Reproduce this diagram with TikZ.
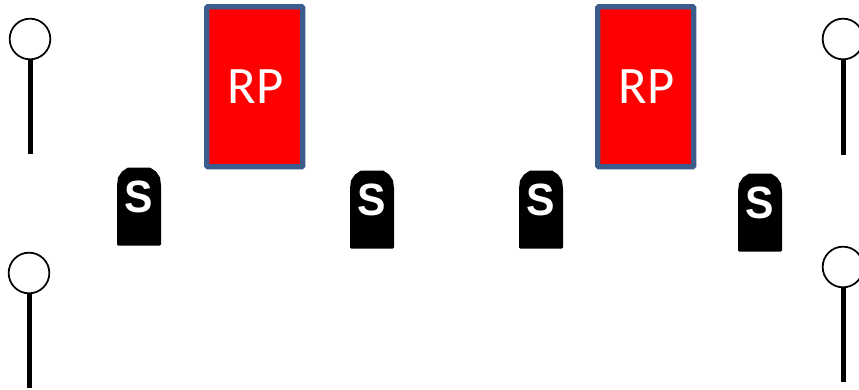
\documentclass[tikz,border=0pt]{standalone}
\usepackage{fontspec}
\setmainfont{Carlito}
\newfontfamily\badgefont{Liberation Sans}
\definecolor{rpblue}{RGB}{60,92,140}
\tikzset{
 x=0.75pt,y=-0.75pt,
 rpbox/.style={draw=rpblue,fill=red,line width=3.9pt,rounded corners=0.8pt,minimum width=72pt,minimum height=120pt,inner sep=0pt,text=white,font=\fontsize{39.5pt}{39.5pt}\selectfont},
 signalhead/.style={draw=black,fill=white,circle,line width=1.3pt,minimum size=30.5pt,inner sep=0pt},
 polebar/.style={line width=3.6pt,black},
 badgetext/.style={text=white,inner sep=0pt,font=\badgefont\bfseries\fontsize{32pt}{32pt}\selectfont},
}
\newcommand{\badgeletter}{\scalebox{1.0}[1.06]{S}}
\begin{document}
\begin{tikzpicture}
\useasboundingbox (0,0) rectangle (859,389);
% red boxes
\node[rpbox] (rpa) at (254.7,86.7) {\hspace{1.5pt}RP};
\node[rpbox] (rpb) at (645.7,86.7) {\hspace{1.5pt}RP};
% signals
\node[signalhead] (sa) at (30,39) {};
\coordinate (pa) at (30.5,154);
\draw[polebar] (sa.south -| pa) -- (pa);
\node[signalhead] (sb) at (29,273) {};
\coordinate (pb) at (29.5,388);
\draw[polebar] (sb.south -| pb) -- (pb);
\node[signalhead] (sc) at (843,39) {};
\coordinate (pc) at (843.5,155);
\draw[polebar] (sc.south -| pc) -- (pc);
\node[signalhead] (sd) at (843,267) {};
\coordinate (pd) at (843.5,382);
\draw[polebar] (sd.south -| pd) -- (pd);
% badges
\foreach \n/\bx/\by in {ba/117/167.5,bb/350/170.5,bc/519/170.5,bd/738/173.5}{
  \fill[black] (\bx,\by+78) [rounded corners=0.8pt] -- (\bx,\by+18) [rounded corners=0pt]
     -- (\bx+1,\by+10) -- (\bx+5,\by+4) -- (\bx+11,\by) -- (\bx+33,\by) -- (\bx+39,\by+4) -- (\bx+43,\by+10)
     -- (\bx+44,\by+18) [rounded corners=0.8pt] -- (\bx+44,\by+78) -- cycle;
  \node[badgetext] (\n) at (\bx+22,\by+29) {\badgeletter};
}
\end{tikzpicture}
\end{document}
